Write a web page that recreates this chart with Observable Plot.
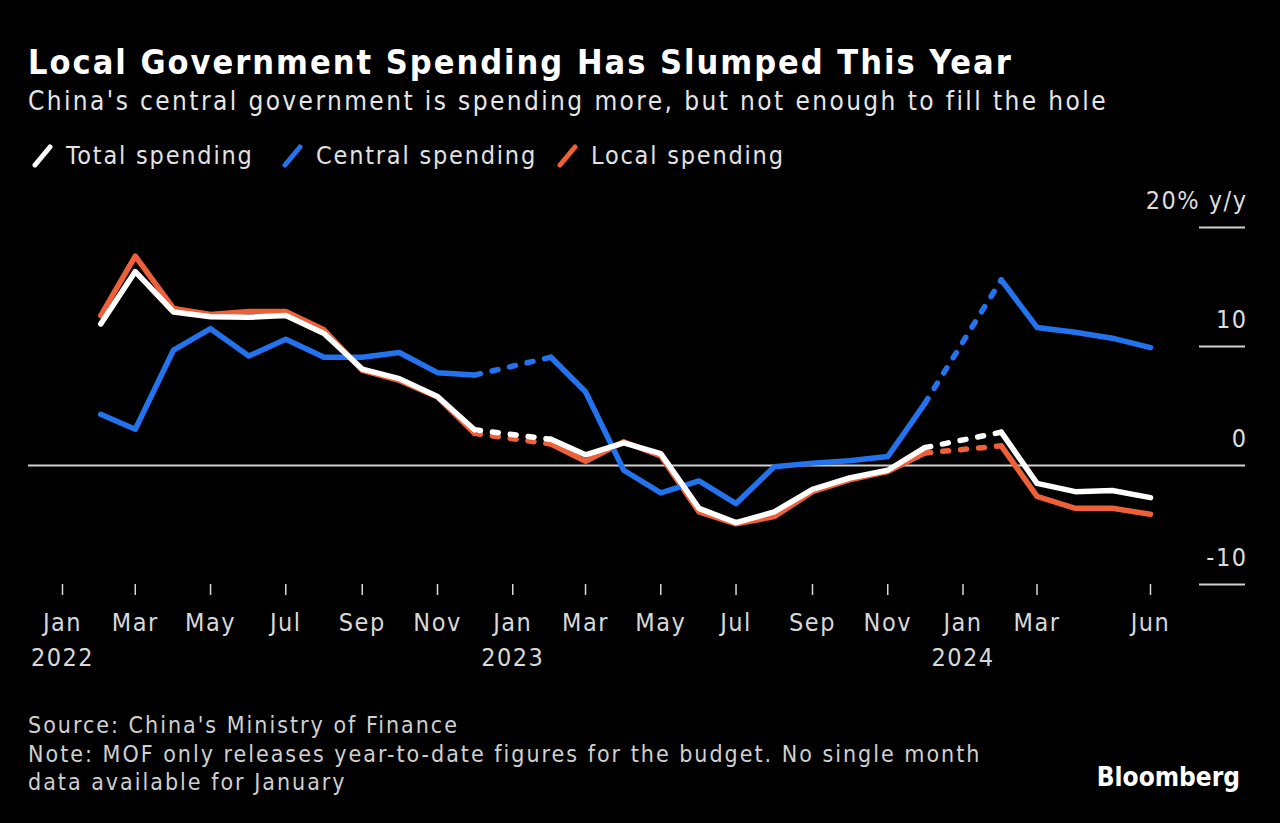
<!DOCTYPE html>
<html><head><meta charset="utf-8">
<script src="https://cdn.jsdelivr.net/npm/d3@7"></script>
<script src="https://cdn.jsdelivr.net/npm/@observablehq/plot@0.6"></script>
<style>
html,body{margin:0;padding:0;background:#000;width:1280px;height:823px;overflow:hidden;}
body{position:relative;font-family:"DejaVu Sans Condensed","DejaVu Sans",sans-serif;color:#e2e2e2;}
.t{position:absolute;white-space:nowrap;line-height:1;}
#title{left:28px;top:45px;font-size:34px;font-weight:bold;color:#fff;letter-spacing:2px;}
#subtitle{left:28px;top:88px;font-size:26px;color:#e6e6e6;letter-spacing:2.4px;}
#legend{left:28px;top:142px;font-size:25px;color:#e2e2e2;letter-spacing:1.8px;}
.item{position:absolute;top:0;white-space:nowrap;}
.item svg{position:absolute;left:0;top:0;}
.item span{position:absolute;top:1px;}
#footer{left:28px;top:711px;font-size:23px;line-height:28.5px;color:#d0d0d0;letter-spacing:2px;}
#brand{right:40px;top:764px;font-size:26px;font-weight:bold;color:#fff;font-family:"Liberation Sans Narrow","DejaVu Sans Condensed",sans-serif;}
#chart{position:absolute;left:0;top:185px;}
</style></head>
<body>
<div id="title" class="t">Local Government Spending Has Slumped This Year</div>
<div id="subtitle" class="t">China's central government is spending more, but not enough to fill the hole</div>
<div id="legend" class="t"></div>
<div id="chart"></div>
<div id="footer" class="t">Source: China's Ministry of Finance<br>Note: MOF only releases year-to-date figures for the budget. No single month<br>data available for January</div>
<div id="brand" class="t">Bloomberg</div>
<script>
// ---- data ----
const months = [
  "2022-02","2022-03","2022-04","2022-05","2022-06","2022-07","2022-08","2022-09","2022-10","2022-11","2022-12",
  "2023-01","2023-02","2023-03","2023-04","2023-05","2023-06","2023-07","2023-08","2023-09","2023-10","2023-11","2023-12",
  "2024-01","2024-02","2024-03","2024-04","2024-05","2024-06"
];
const totalSpending = [
  11.9, 16.3, 12.9, 12.5, 12.45, 12.6, 11.1, 8.1, 7.3, 5.8, 3.0,
  null, 2.2, 0.9, 1.9, 1.0, -3.6, -4.8, -3.9, -2.0, -1.05, -0.4, 1.5,
  null, 2.8, -1.5, -2.2, -2.1, -2.7
];
const centralSpending = [
  4.3, 3.05, 9.7, 11.5, 9.2, 10.6, 9.1, 9.1, 9.5, 7.8, 7.6,
  null, 9.1, 6.2, -0.4, -2.3, -1.3, -3.2, -0.1, 0.2, 0.4, 0.75, 5.2,
  null, 15.6, 11.6, 11.2, 10.7, 9.9
];
const localSpending = [
  12.6, 17.6, 13.2, 12.7, 12.95, 12.95, 11.4, 8.0, 7.15, 5.75, 2.7,
  null, 1.8, 0.35, 2.0, 0.8, -3.9, -4.9, -4.3, -2.2, -1.2, -0.5, 1.05,
  null, 1.65, -2.6, -3.6, -3.6, -4.1
];
const seriesNames = ["Total spending", "Central spending", "Local spending"];
const seriesColors = ["#ffffff", "#2473ee", "#ee6038"];
const xTicks = ["2022-01","2022-03","2022-05","2022-07","2022-09","2022-11",
  "2023-01","2023-03","2023-05","2023-07","2023-09","2023-11",
  "2024-01","2024-03","2024-06"];
const yTicks = [20, 10, 0, -10];
const yTickLabels = ["20% y/y", "10", "0", "-10"];

// ---- build ----
const parse = d3.utcParse("%Y-%m");
const valuesBySeries = {
  "Total spending": totalSpending,
  "Central spending": centralSpending,
  "Local spending": localSpending
};
const drawOrder = ["Local spending", "Central spending", "Total spending"];
const rows = [];
const gapRows = [];
for (const s of drawOrder) {
  const vals = valuesBySeries[s];
  months.forEach((m, i) => rows.push({date: parse(m), value: vals[i], series: s}));
  vals.forEach((v, i) => {
    if (v == null && i > 0 && i < vals.length - 1) {
      const id = s + "-" + i;
      gapRows.push({date: parse(months[i - 1]), value: vals[i - 1], series: s, gap: id});
      gapRows.push({date: parse(months[i + 1]), value: vals[i + 1], series: s, gap: id});
    }
  });
}
const fmtMonth = d3.utcFormat("%b");
const fmtYear = d3.utcFormat("%Y");
const tickDates = xTicks.map(parse);

const chart = Plot.plot({
  width: 1280,
  height: 510,
  marginLeft: 62,
  marginRight: 130,
  marginTop: 42,
  marginBottom: 111,
  style: {background: "#000", color: "#d8d8d8", letterSpacing: "1.5px",
    fontFamily: '"DejaVu Sans Condensed","DejaVu Sans",sans-serif'},
  x: {type: "utc", domain: [parse("2022-01"), parse("2024-06")], axis: null},
  y: {domain: [-10, 20], axis: null},
  color: {domain: seriesNames, range: seriesColors},
  marks: [
    Plot.ruleY([0], {insetLeft: -34, insetRight: -95, stroke: "#d0d0d0", strokeWidth: 2}),
    Plot.ruleY(yTicks.filter(d => d !== 0), {insetLeft: 1137, insetRight: -95, stroke: "#d0d0d0", strokeWidth: 2}),
    Plot.text(yTicks, {y: d => d, text: (d, i) => yTickLabels[i], frameAnchor: "right", dx: 97, dy: -27,
      textAnchor: "end", fontSize: 25, fill: "#dcdcdc"}),
    Plot.axisX(tickDates, {tickSize: 11, tickPadding: 11, strokeWidth: 1.5, fontSize: 25, lineHeight: 1.4,
      color: "#d8d8d8", label: null,
      tickFormat: d => fmtMonth(d) + (d.getUTCMonth() === 0 ? "\n" + fmtYear(d) : "")}),
    Plot.lineY(gapRows, {x: "date", y: "value", z: "gap", stroke: "series", strokeWidth: 5.5,
      strokeDasharray: "6,12", strokeLinecap: "round"}),
    Plot.lineY(rows, {x: "date", y: "value", z: "series", stroke: "series", strokeWidth: 5.5,
      strokeLinejoin: "round", strokeLinecap: "round"})
  ]
});
document.getElementById("chart").appendChild(chart);

// legend
const legend = document.getElementById("legend");
const legendX = [4, 254, 529];
const legendTextDx = 38;
seriesNames.forEach((name, i) => {
  const item = document.createElement("div");
  item.className = "item";
  item.style.left = legendX[i] + "px";
  item.innerHTML = `<svg width="30" height="30"><line x1="3" y1="23" x2="18" y2="5" stroke="${seriesColors[i]}" stroke-width="5" stroke-linecap="round"/></svg><span style="left:${legendTextDx - 4}px">${name}</span>`;
  legend.appendChild(item);
});
</script>
</body></html>
